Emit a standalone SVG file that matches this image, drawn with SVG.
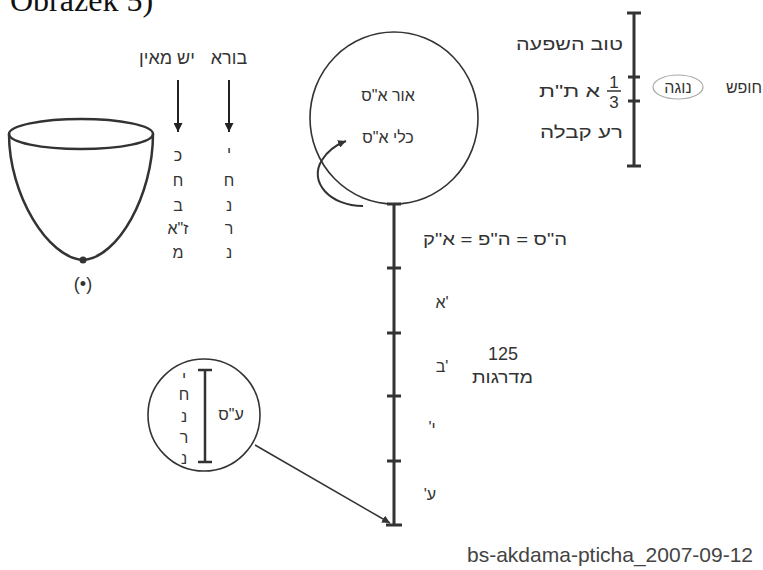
<svg xmlns="http://www.w3.org/2000/svg" width="763" height="570" viewBox="0 0 763 570">
<style>
  .t{font-family:"Liberation Sans","DejaVu Sans",sans-serif;font-size:18px;fill:#333;text-anchor:middle}
  .s{font-size:16px}
  .l{text-anchor:start;font-size:17px}
  .ln{stroke:#333;fill:none}
  .sc{stroke:#333;stroke-width:3;fill:none}
</style>
<defs>
  <marker id="ah" viewBox="0 0 10 10" refX="10" refY="5" markerWidth="8" markerHeight="8" markerUnits="userSpaceOnUse" orient="auto">
    <path d="M0,0 L10,5 L0,10 Z" fill="#333"/>
  </marker>
  <marker id="ahb" viewBox="0 0 10 10" refX="10" refY="5" markerWidth="14" markerHeight="9" markerUnits="userSpaceOnUse" orient="auto">
    <path d="M0,0 L10,5 L0,10 Z" fill="#222"/>
  </marker>
</defs>
<rect width="763" height="570" fill="#fff"/>
<text x="10" y="11" style="font-family:'Liberation Serif',serif;font-size:32px;fill:#111">Obrázek 5)</text>

<g id="bowl">
  <ellipse cx="81" cy="134" rx="72" ry="15" class="ln" stroke-width="2.5"/>
  <path d="M9,134 C9,195 48,258 83,260 C118,258 153,195 153,134" class="ln" stroke-width="2.5"/>
  <circle cx="83" cy="260" r="3.5" fill="#333"/>
  <text x="83" y="290" class="t">(•)</text>
</g>

<g id="col-yesh">
  <text x="167" y="64" class="t">יש מאין</text>
  <text x="178" y="161" class="t s">כ</text>
  <text x="178" y="186" class="t s">ח</text>
  <text x="178" y="211" class="t s">ב</text>
  <text x="178" y="234" class="t s">ז"א</text>
  <text x="178" y="258" class="t s">מ</text>
</g>
<g id="col-bore">
  <text x="229" y="64" class="t">בורא</text>
  <text x="229" y="158" class="t s">י</text>
  <text x="229" y="186" class="t s">ח</text>
  <text x="229" y="211" class="t s">נ</text>
  <text x="229" y="234" class="t s">ר</text>
  <text x="229" y="258" class="t s">נ</text>
</g>

<g id="big-circle">
  <ellipse cx="394" cy="118" rx="84" ry="86" class="ln" stroke-width="1.6"/>
  <text x="388" y="101" class="t s">אור א"ס</text>
  <text x="388" y="143" class="t s">כלי א"ס</text>
</g>

<g id="top-scale">
  <line x1="634" y1="13" x2="634" y2="166" class="sc"/>
  <line x1="627" y1="13" x2="641" y2="13" class="sc"/>
  <line x1="627" y1="166" x2="641" y2="166" class="sc"/>
  <line x1="628" y1="77" x2="640" y2="77" class="sc"/>
  <line x1="628" y1="101" x2="640" y2="101" class="sc"/>
  <text x="516" y="50" class="t l" textLength="107" lengthAdjust="spacingAndGlyphs">טוב  השפעה</text>
  <text x="540" y="138" class="t l" textLength="83" lengthAdjust="spacingAndGlyphs">רע  קבלה</text>
  <text x="539" y="97" class="t l" textLength="61" lengthAdjust="spacingAndGlyphs">א  ת"ת</text>
  <text x="614" y="88" class="t" style="font-size:17px">1</text>
  <line x1="607" y1="91" x2="621" y2="91" stroke="#333" stroke-width="1.5"/>
  <text x="614" y="108" class="t" style="font-size:17px">3</text>
</g>
<g id="nogah">
  <ellipse cx="678" cy="87" rx="25" ry="12" fill="none" stroke="#aaa" stroke-width="1.2"/>
  <text x="678" y="93" class="t s">נוגה</text>
</g>
<g id="chofesh">
  <text x="762" y="93" class="t s" style="text-anchor:end">חופש</text>
</g>

<g id="main-scale">
  <line x1="394" y1="204" x2="394" y2="525" class="sc"/>
  <line x1="387" y1="204" x2="401" y2="204" class="sc"/>
  <line x1="386" y1="525" x2="402" y2="525" class="sc"/>
  <line x1="387" y1="268" x2="401" y2="268" class="sc"/>
  <line x1="387" y1="333" x2="401" y2="333" class="sc"/>
  <line x1="387" y1="396" x2="401" y2="396" class="sc"/>
  <line x1="387" y1="461" x2="401" y2="461" class="sc"/>
  <text x="423" y="245" class="t l" textLength="144" lengthAdjust="spacingAndGlyphs">ה"ס = ה"פ = א"ק</text>
  <text x="442" y="308" class="t s">&#x202D;א'&#x202C;</text>
  <text x="442" y="372" class="t s">&#x202D;ב'&#x202C;</text>
  <text x="432" y="433" class="t s">&#x202E;י'&#x202C;</text>
  <text x="430" y="500" class="t s">&#x202E;ע'&#x202C;</text>
  <text x="503" y="360" class="t">125</text>
  <text x="472" y="383" class="t l" textLength="61" lengthAdjust="spacingAndGlyphs">מדרגות</text>
</g>

<g id="small-circle">
  <circle cx="204" cy="415" r="56" class="ln" stroke-width="1.6"/>
  <line x1="205" y1="370" x2="205" y2="462" class="ln" stroke-width="2.5"/>
  <line x1="198" y1="370" x2="212" y2="370" class="ln" stroke-width="2.5"/>
  <line x1="198" y1="462" x2="212" y2="462" class="ln" stroke-width="2.5"/>
  <text x="184" y="383" class="t s">י</text>
  <text x="184" y="400" class="t s">ח</text>
  <text x="184" y="422" class="t s">נ</text>
  <text x="184" y="443" class="t s">ר</text>
  <text x="184" y="464" class="t s">נ</text>
  <text x="231" y="420" class="t s">ע"ס</text>
</g>

<g id="connectors">
  <line x1="178" y1="80" x2="178" y2="132" stroke="#222" stroke-width="2" marker-end="url(#ahb)"/>
  <line x1="229" y1="80" x2="229" y2="132" stroke="#222" stroke-width="2" marker-end="url(#ahb)"/>
  <path d="M363,206 C330,206 308,182 322,160 C328,150 336,145 346,141" class="ln" stroke-width="2" marker-end="url(#ah)"/>
  <line x1="255" y1="445" x2="390" y2="523" stroke="#333" stroke-width="1.5" marker-end="url(#ah)"/>
</g>

<text x="467" y="562" style="font-family:'Liberation Sans',Arial,sans-serif;font-size:21px;fill:#444">bs-akdama-pticha_2007-09-12</text>
</svg>
